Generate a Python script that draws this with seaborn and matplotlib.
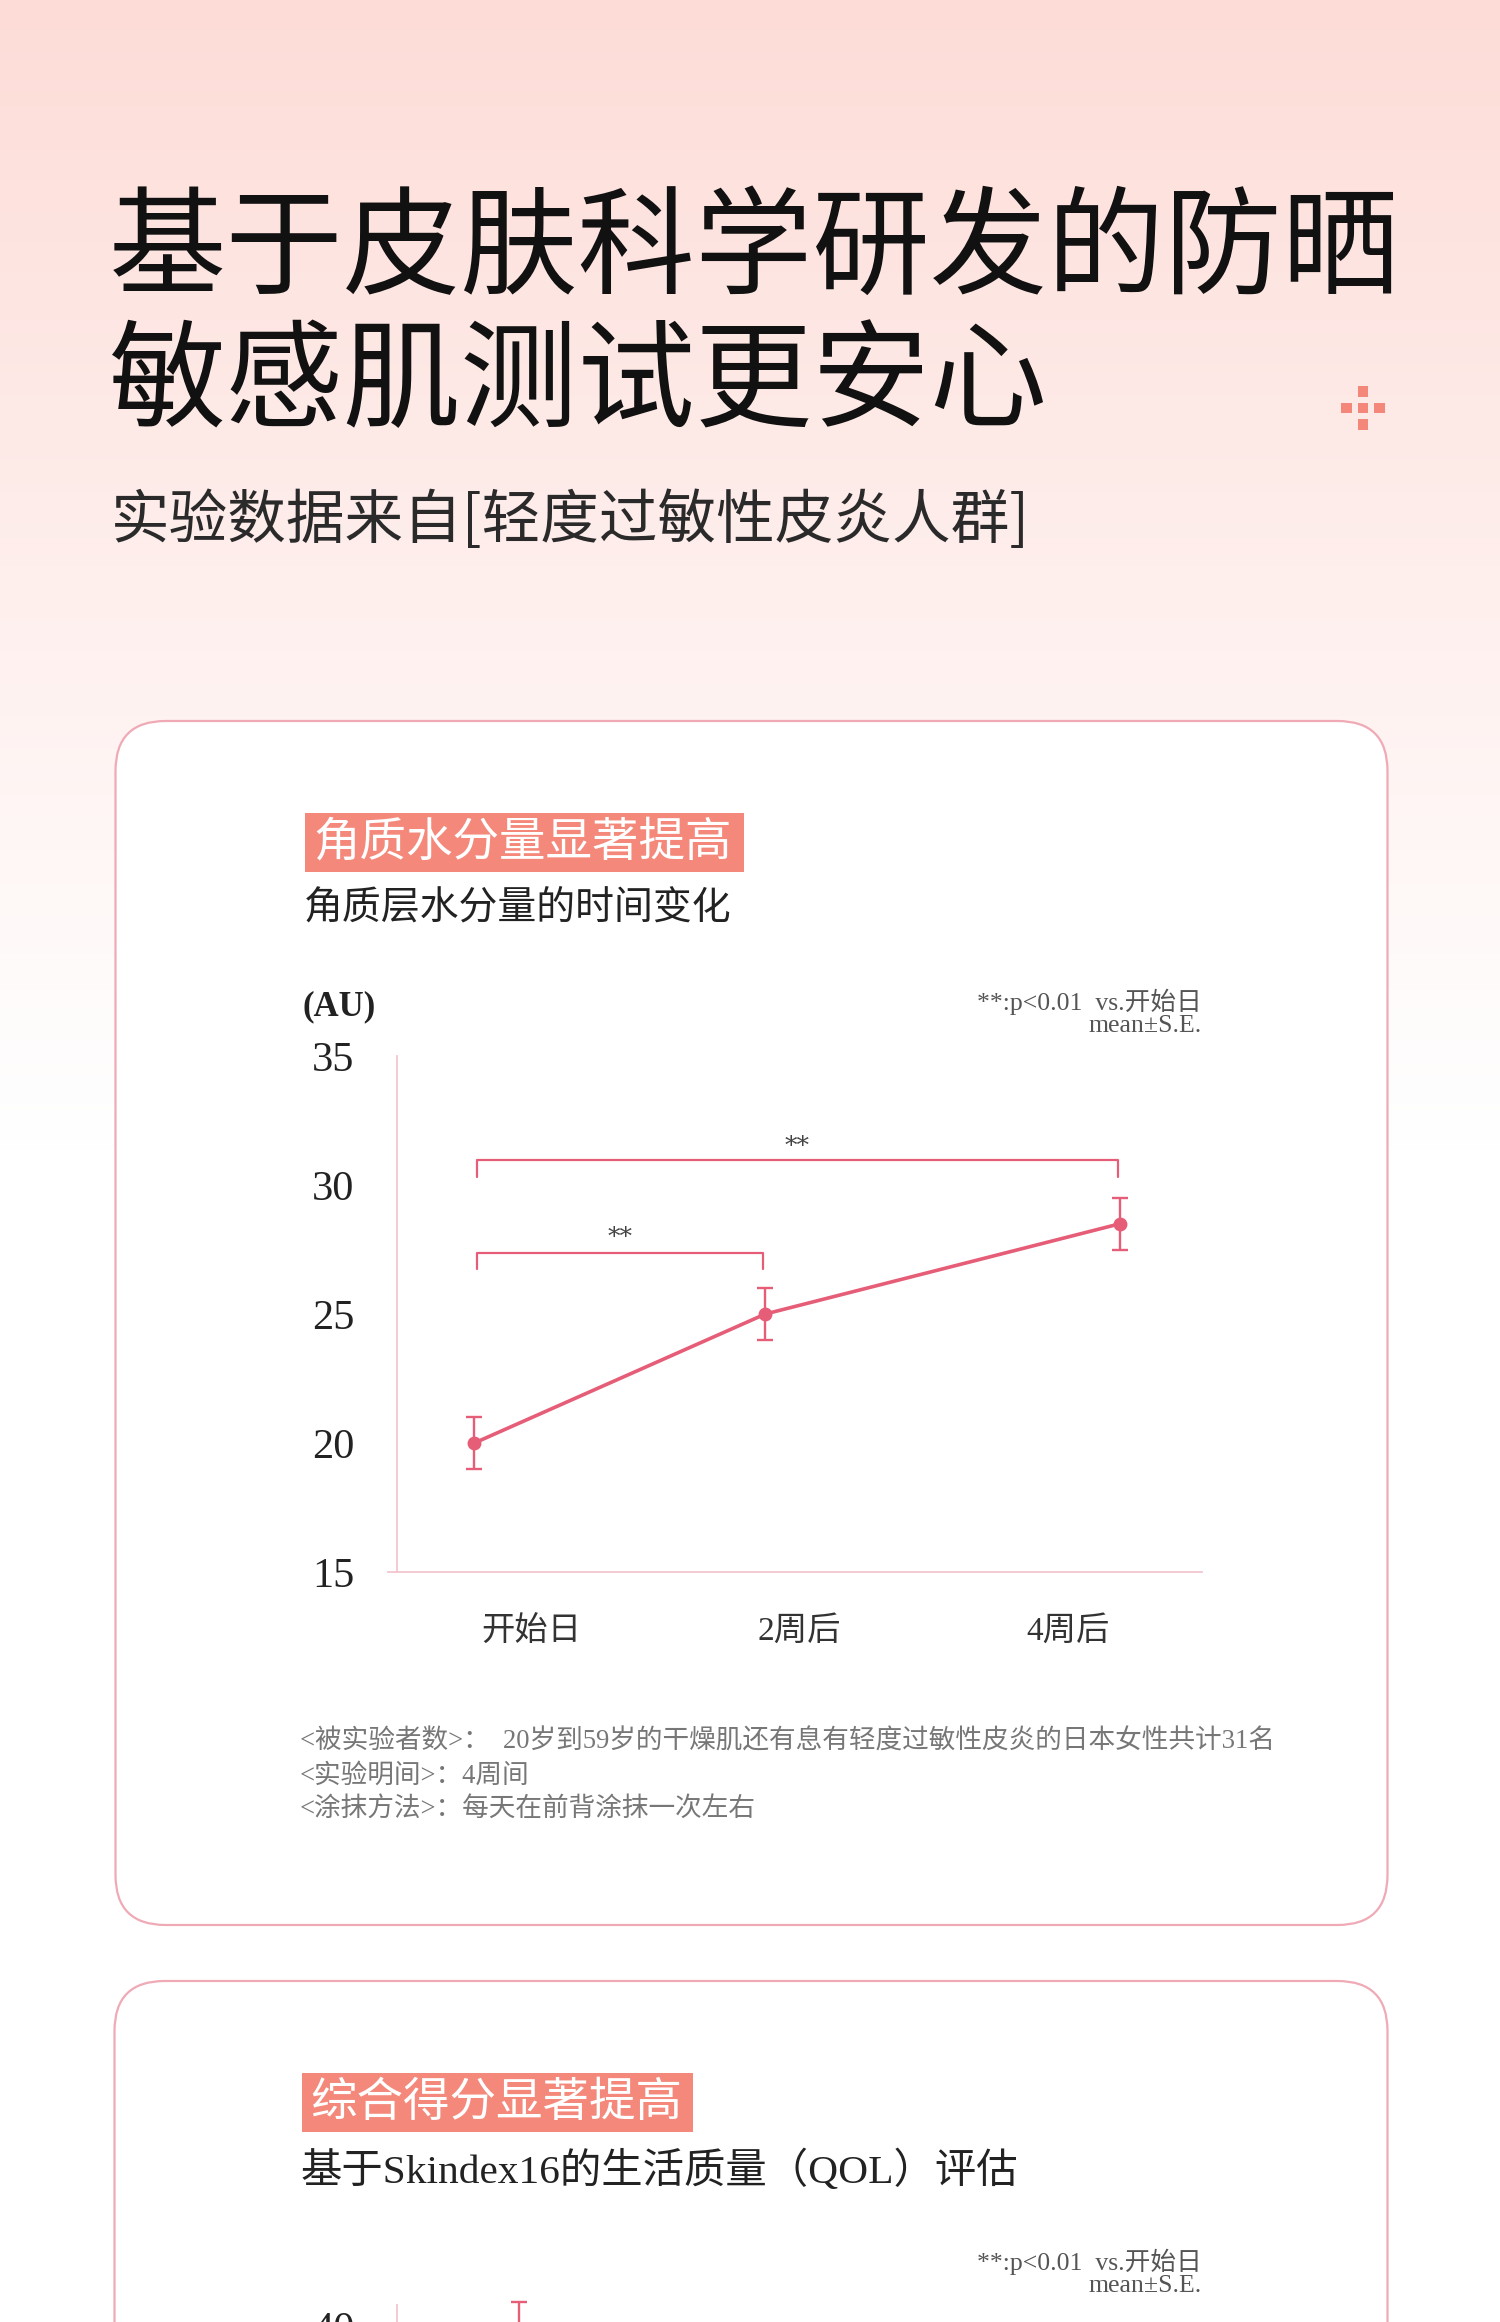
import numpy as np
import pandas as pd
import matplotlib
matplotlib.use("Agg")
import matplotlib.pyplot as plt
import seaborn as sns
from matplotlib.patches import FancyBboxPatch, Rectangle

# ---------------- data ----------------
title_lines = ["基于皮肤科学研发的防晒", "敏感肌测试更安心"]
subtitle = "实验数据来自[轻度过敏性皮炎人群]"

card1_tag = "角质水分量显著提高"
card1_subtitle = "角质层水分量的时间变化"
card1_unit = "(AU)"
categories = ["开始日", "2周后", "4周后"]
moisture_mean = [20.0, 25.0, 28.5]
moisture_se = [1.0, 1.0, 1.0]
card1_yticks = [15, 20, 25, 30, 35]
sig_pairs = [(0, 1), (0, 2)]
sig_labels = ["**", "**"]
stat_note = ["**:p<0.01  vs.开始日", "mean±S.E."]
footnotes = [
    "<被实验者数>：  20岁到59岁的干燥肌还有息有轻度过敏性皮炎的日本女性共计31名",
    "<实验明间>：4周间",
    "<涂抹方法>：每天在前背涂抹一次左右",
]

card2_tag = "综合得分显著提高"
card2_subtitle = "基于Skindex16的生活质量（QOL）评估"
qol_mean = [39.2, 33.5, 30.8]
qol_se = [2.75, 2.6, 2.5]
card2_yticks = [40]          # only the top tick is visible on the page

# ---------------- style ----------------
sns.set_theme(style="white")
CJK = "Noto Sans CJK SC"
SERIF_MIX = ["Liberation Serif", CJK]
plt.rcParams["font.family"] = [CJK, "DejaVu Sans"]

W, H = 1500, 2322
LINE = "#e65d78"
AXIS = "#f3c6ce"
CARD_EDGE = "#efaab6"
SALMON = "#f4897b"
TOP_PINK = np.array([253, 220, 215]) / 255.0

fig = plt.figure(figsize=(W / 100, H / 100), dpi=100)

# background / decoration layer in pixel coordinates
bg = fig.add_axes([0, 0, 1, 1])
bg.set_xlim(0, W)
bg.set_ylim(H, 0)
bg.axis("off")
yy = np.arange(H)
t = np.clip(1 - yy / 1150.0, 0, 1) ** 1.1
img = TOP_PINK[None, :] * t[:, None] + np.ones(3)[None, :] * (1 - t[:, None])
img = np.repeat(img[:, None, :], 4, axis=1)
bg.imshow(img, extent=(0, W, H, 0), aspect="auto", zorder=0)

# plus-shaped decoration
cx, cy, sq, step = 1363, 408, 10.5, 16.7
for dx, dy in [(0, 0), (step, 0), (-step, 0), (0, step), (0, -step)]:
    bg.add_patch(Rectangle((cx + dx - sq / 2, cy + dy - sq / 2), sq, sq,
                           fc="#f2877a", ec="none", zorder=2))

# title
for i, line in enumerate(title_lines):
    bg.text(109, 251 + i * 134, line, fontsize=84.5, color="#111111",
            ha="left", va="center", family=CJK, fontweight="medium", zorder=3)
bg.text(111, 522, subtitle, fontsize=42.2, color="#2a2a2a", ha="left",
        va="center", family=CJK, zorder=3)

# cards
bg.add_patch(FancyBboxPatch((115.5, 721), 1272, 1204,
                            boxstyle="round,pad=0,rounding_size=50",
                            fc="white", ec=CARD_EDGE, lw=1.6, zorder=1))
bg.add_patch(FancyBboxPatch((114.5, 1981), 1273, 700,
                            boxstyle="round,pad=0,rounding_size=50",
                            fc="white", ec=CARD_EDGE, lw=1.6, zorder=1))

# tags + subtitles
for (x0, y0, w, tag, sub, ysub, fs) in [
    (304.5, 812.7, 439.5, card1_tag, card1_subtitle, 909, 28),
    (301.5, 2073.0, 391.5, card2_tag, card2_subtitle, 2171, 29.8),
]:
    bg.add_patch(Rectangle((x0, y0), w, 59, fc=SALMON, ec="none", zorder=2))
    bg.text(x0 + 9, y0 + 29.5, tag, fontsize=33.5, color="white",
            ha="left", va="center", family=CJK, zorder=3)
    bg.text(x0 - 1, ysub, sub, fontsize=fs, color="#222222",
            ha="left", va="center", family=SERIF_MIX, zorder=3)

# unit + stat notes
bg.text(303, 1007, card1_unit, fontsize=25, fontweight="bold",
        color="#222222", ha="left", va="center", family="Liberation Serif", zorder=3)
for ytop in (1002, 2262):
    for j, note in enumerate(stat_note):
        bg.text(1202, ytop + j * 24, note, fontsize=18.5, color="#555555",
                ha="right", va="center", family=SERIF_MIX, zorder=3)

# footnotes
for j, fn in enumerate(footnotes):
    bg.text(300, 1742 + j * 34, fn, fontsize=19.2, color="#777777",
            ha="left", va="center", family=SERIF_MIX, zorder=3)


# ---------------- charts ----------------
def make_axes(top_px, bottom_px, left_px=388, right_px=1202):
    return fig.add_axes([left_px / W, 1 - bottom_px / H,
                         (right_px - left_px) / W, (bottom_px - top_px) / H])


def style_axes(ax, yticks, ylim, show_categories=True):
    ax.set_facecolor("none")
    ax.set_xlim(-0.035, 3)
    ax.set_ylim(*ylim)
    for s in ("top", "right"):
        ax.spines[s].set_visible(False)
    ax.spines["left"].set_position(("data", 0))
    for s in ("left", "bottom"):
        ax.spines[s].set_color(AXIS)
        ax.spines[s].set_linewidth(1.3)
    ax.set_xticks([0, 1, 2, 3])
    ax.set_xticklabels([])
    ax.set_xticks([0.5, 1.5, 2.5], minor=True)
    if show_categories:
        ax.set_xticklabels(categories, minor=True, fontsize=24, color="#333333",
                           family=SERIF_MIX)
    else:
        ax.set_xticklabels([], minor=True)
    ax.tick_params(axis="x", which="major", length=15, width=1.0,
                   color=AXIS, direction="out")
    ax.tick_params(axis="x", which="minor", length=0, pad=32)
    ax.set_yticks(yticks)
    ax.set_yticklabels([str(v) for v in yticks], fontsize=30.5, color="#222222",
                       family="Liberation Serif")
    ax.tick_params(axis="y", length=0, pad=31)
    ax.set_xlabel("")
    ax.set_ylabel("")
    ax.grid(False)


def draw_series(ax, pos, mean, se):
    df = pd.DataFrame({"pos": pos, "value": mean, "se": se})
    sns.lineplot(data=df, x="pos", y="value", ax=ax, color=LINE, linewidth=2.6,
                 marker="o", markersize=10, markeredgewidth=0, zorder=4)
    eb = ax.errorbar(df["pos"], df["value"], yerr=df["se"], fmt="none",
                     ecolor=LINE, elinewidth=1.7, capsize=6, capthick=1.7,
                     zorder=4)
    for art in list(eb.lines[1]) + list(eb.lines[2]):
        art.set_clip_on(False)
    ax.set_xlabel("")
    ax.set_ylabel("")


# chart 1 : moisture
ax1 = make_axes(1056, 1572)
style_axes(ax1, card1_yticks, (15, 35))
card1_pos = [0.287, 1.372, 2.695]  # horizontal placement of the measurements
draw_series(ax1, card1_pos, moisture_mean, moisture_se)
bracket_levels = [(26.75, 27.35, 27.95), (30.3, 30.95, 31.5)]
for (i, j), lab, (yleg, ybar, ytxt) in zip(sig_pairs, sig_labels, bracket_levels):
    x0, x1 = card1_pos[i] + 0.01, card1_pos[j] - 0.01
    ax1.plot([x0, x0, x1, x1], [yleg, ybar, ybar, yleg], color=LINE, lw=1.6,
             zorder=3)
    ax1.text((x0 + x1) / 2, ytxt, lab, ha="center", va="center", fontsize=18,
             color="#444444", family="DejaVu Serif")

# chart 2 : QOL (mostly below the visible page)
ax2 = make_axes(2305, 2821)
style_axes(ax2, card2_yticks, (0, 41.7), show_categories=False)
card2_pos = [0.455, 1.45, 2.6]
draw_series(ax2, card2_pos, qol_mean, qol_se)

fig.savefig("out.png", dpi=100)
